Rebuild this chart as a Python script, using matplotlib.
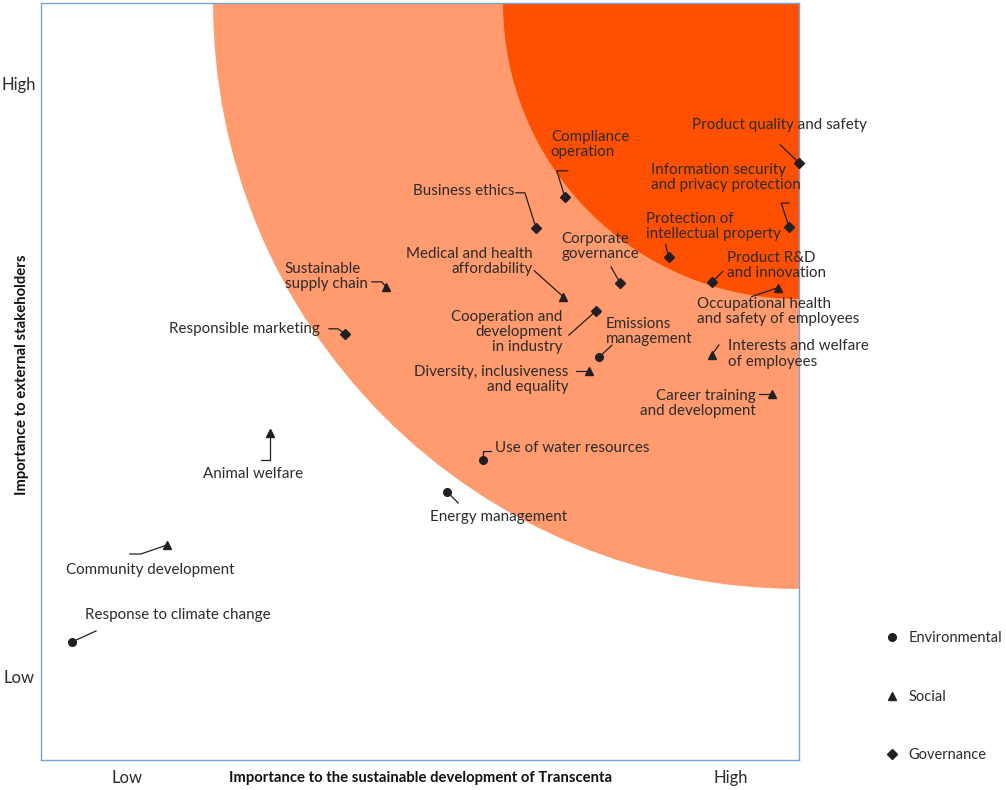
import matplotlib
matplotlib.use("Agg")
import matplotlib.pyplot as plt
from matplotlib.patches import Ellipse
from matplotlib.lines import Line2D

plt.rcParams['font.family'] = ['Lato', 'DejaVu Sans']

# importance scores on a 0-100 scale (x: to Transcenta, y: to external stakeholders)
topics = [
    "Product quality and safety",
    "Information security\nand privacy protection",
    "Protection of\nintellectual property",
    "Product R&D\nand innovation",
    "Compliance\noperation",
    "Business ethics",
    "Corporate\ngovernance",
    "Cooperation and\ndevelopment\nin industry",
    "Responsible marketing",
    "Sustainable\nsupply chain",
    "Medical and health\naffordability",
    "Diversity, inclusiveness\nand equality",
    "Occupational health\nand safety of employees",
    "Interests and welfare\nof employees",
    "Career training\nand development",
    "Animal welfare",
    "Community development",
    "Emissions\nmanagement",
    "Use of water resources",
    "Energy management",
    "Response to climate change",
]
category = ["G", "G", "G", "G", "G", "G", "G", "G", "G",
            "S", "S", "S", "S", "S", "S", "S", "S",
            "E", "E", "E", "E"]
x_vals = [100.0, 98.7, 82.8, 88.5, 69.1, 65.3, 76.4, 73.2, 40.1,
          45.5, 68.9, 72.3, 97.2, 88.5, 96.4, 30.2, 16.6,
          73.6, 58.3, 53.6, 4.1]
y_vals = [78.9, 70.4, 66.4, 63.1, 74.4, 70.3, 63.0, 59.3, 56.3,
          62.5, 61.2, 51.4, 62.4, 53.5, 48.3, 43.2, 28.4,
          53.2, 39.6, 35.4, 15.6]

# label placement: (dx, dy) in pixels from the marker (y downwards), alignment,
# and leader-line vertices in pixels from the marker
label_pos = [
    ((-107, -38), "left", [(-19, -18)]),
    ((-138, -50), "left", [(-8, -24), (0, -24)]),
    ((-23, -31), "left", [(-3, -13)]),
    ((15, -17), "left", [(11, -11)]),
    ((-14, -52), "left", [(-8, -26), (3, -26)]),
    ((-123, -37), "left", [(-11, -35), (-20, -35)]),
    ((-59, -37), "left", [(-9, -16)]),
    ((-33, 21), "right", [(-27, 24)]),
    ((-25, -5), "right", [(-7, -5), (-16, -5)]),
    ((-101, -10), "left", [(-4, -5), (-14, -5)]),
    ((-31, -35), "right", [(-29, -26)]),
    ((-21, 9), "right", [(-13, 0)]),
    ((-81, 24), "left", [(-26, 9)]),
    ((16, -1), "left", [(7, -10)]),
    ((-16, 9), "right", [(-13, 0)]),
    ((-67, 41), "left", [(0, 27), (-9, 27)]),
    ((-101, 25), "left", [(-26, 9), (-37, 9)]),
    ((7, -26), "left", [(13, -12)]),
    ((12, -12), "left", [(0, -9), (8, -9)]),
    ((-17, 25), "left", [(11, 11)]),
    ((13, -27), "left", [(24, -11)]),
]

markers = {"E": ("o", 5.5), "S": ("^", 6), "G": ("D", 5)}
ink = "#231f20"
txt = "#2b2b2b"

fig = plt.figure(figsize=(10.06, 7.9), dpi=100)
ax = fig.add_axes([41 / 1006, 30 / 790, 758 / 1006, 757 / 790])
ax.set_xlim(0, 100)
ax.set_ylim(0, 100)
ax.set_xticks([])
ax.set_yticks([])
for s in ax.spines.values():
    s.set_color("#7aa3d6")
    s.set_linewidth(1)

# priority zones: quarter circles centred on the top-right corner
ax.add_patch(Ellipse((100, 100), 2 * 77.3, 2 * 77.4, color="#ff9b6e", lw=0, zorder=0))
ax.add_patch(Ellipse((100, 100), 2 * 39.05, 2 * 39.1, color="#ff4f00", lw=0, zorder=0.5))

px_x = 758 / 100
px_y = 757 / 100
for name, cat, x, y, (lab, ha, path) in zip(topics, category, x_vals, y_vals, label_pos):
    m, ms = markers[cat]
    ax.plot(x, y, marker=m, ms=ms, color=ink, ls="none", clip_on=False, zorder=5)
    xs = [x] + [x + dx / px_x for dx, dy in path]
    ys = [y] + [y - dy / px_y for dx, dy in path]
    ax.plot(xs, ys, color=ink, lw=0.9, clip_on=False, zorder=4)
    ax.text(x + lab[0] / px_x, y - lab[1] / px_y, name, ha=ha, va="center",
            multialignment=ha, fontsize=10.9, color=txt, linespacing=1.1,
            zorder=6, clip_on=False)

# axis annotations
fig.text(19 / 1006, 1 - 85 / 790, "High", ha="center", va="center", fontsize=12, color=txt)
fig.text(19 / 1006, 1 - 678 / 790, "Low", ha="center", va="center", fontsize=12, color=txt)
fig.text(127 / 1006, 1 - 778 / 790, "Low", ha="center", va="center", fontsize=12, color=txt)
fig.text(731 / 1006, 1 - 778 / 790, "High", ha="center", va="center", fontsize=12, color=txt)
fig.text(421 / 1006, 1 - 778 / 790, "Importance to the sustainable development of Transcenta",
         ha="center", va="center", fontsize=10.7, fontweight="bold", color="#111111")
fig.text(22 / 1006, 1 - 375 / 790, "Importance to external stakeholders", rotation=90,
         ha="center", va="center", fontsize=10.7, fontweight="bold", color="#111111")

# legend
handles = [Line2D([], [], marker=markers[c][0], ms=markers[c][1], color=ink, ls="none")
           for c in ["E", "S", "G"]]
fig.legend(handles, ["Environmental", "Social", "Governance"], loc="upper left",
           bbox_to_anchor=(873 / 1006, 1 - 618 / 790), frameon=False, fontsize=10.5,
           labelspacing=3.05, handlelength=0.8, handletextpad=0.75, labelcolor=txt)

fig.savefig("out.png", dpi=100)
